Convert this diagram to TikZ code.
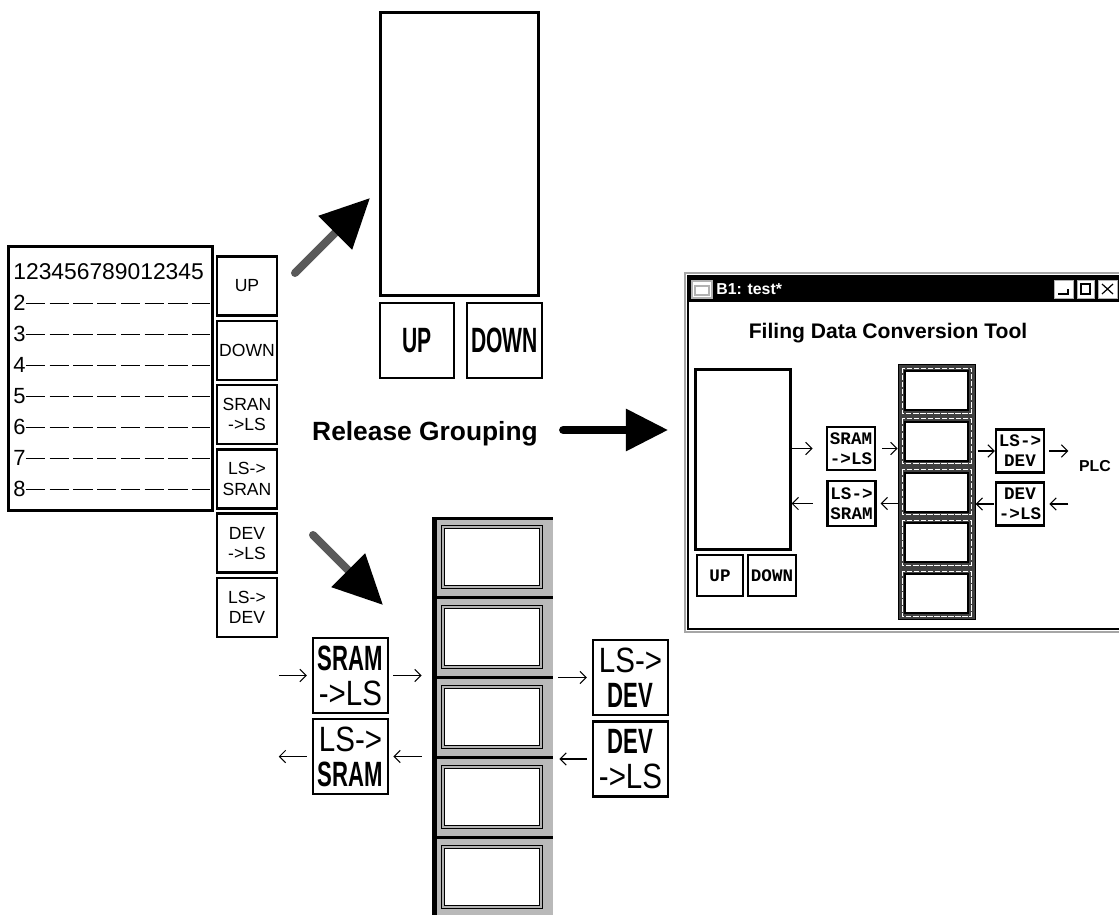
\documentclass[tikz,border=0pt]{standalone}
\usepackage{fontspec}
\setmainfont{Liberation Sans}
\newfontfamily\lcdmono{Liberation Mono}
\usepackage{graphicx}
\usetikzlibrary{arrows.meta}
\usetikzlibrary{positioning}
\newcommand{\px}{0.02cm}
\newcommand{\cnd}[2]{\scalebox{#1}[1]{#2}}
\tikzset{lcdbox/.style={draw, line width=3*\px, fill=white, inner sep=0pt}}
\tikzset{keybtn/.style={draw, line width=2.5*\px, inner sep=0pt, minimum width=60*\px, minimum height=59*\px, align=center, font=\fontsize{10pt}{11.5pt}\selectfont}}
\tikzset{bigbtn/.style={draw, line width=2.5*\px, inner sep=0pt, minimum width=75*\px, minimum height=75*\px, align=center, font=\fontsize{20pt}{20pt}\selectfont}}
\tikzset{winbtn/.style={draw, line width=2.5*\px, inner sep=0pt, minimum width=48*\px, minimum height=43*\px, align=center, font=\lcdmono\bfseries\fontsize{10pt}{11.5pt}\selectfont}}
\tikzset{filmframe/.style={draw, fill=white, line width=0.8pt, double=gray!60, double distance=0.8pt, inner sep=0pt}}
\tikzset{flow/.style={line width=0.6pt, -{Straight Barb[length=3.5pt,width=7pt]}}}
\tikzset{bigarrow/.style={line width=8*\px, line cap=round, draw=black!65, -{Triangle[length=28pt,width=26pt,color=black]}}}

\begin{document}
\begin{tikzpicture}[x=0.02cm, y=-0.02cm]
\useasboundingbox (0,0) rectangle (1119,915);
\clip (0,0) rectangle (1119,915);

% grouped display
\node[lcdbox, minimum width=204*\px, minimum height=263*\px] (lcd) at (110,378.5) {};
\node[anchor=west, inner sep=0pt, font=\fontsize{13pt}{14pt}\selectfont] (row1) at (13,272) {123456789012345};
\foreach \n in {2,...,8} {
  \node[anchor=west, inner sep=0pt, font=\fontsize{12.5pt}{14pt}\selectfont] (row\n) at (13,{272+31*(\n-1)}) {\n};
  \draw[thin, dash pattern=on 11pt off 2.5pt] (row\n.east) -- ++(184,0);
}

\node[keybtn] (up) at (247,286) {UP};
\node[keybtn, below=1.6pt of up] (down) {DOWN};
\node[keybtn, below=1.6pt of down] (sran) {SRAN\\->LS};
\node[keybtn, below=1.6pt of sran] (lssran) {LS->\\SRAN};
\node[keybtn, below=1.6pt of lssran] (devls) {DEV\\->LS};
\node[keybtn, below=1.6pt of devls] (lsdev) {LS->\\DEV};

% released display
\node[lcdbox, minimum width=158*\px, minimum height=283*\px] (toplcd) at (459,154.5) {};
\node[bigbtn, minimum width=74*\px] (topup) at (417,340.5) {\cnd{0.6}{\textbf{UP}}};
\node[bigbtn] (topdown) at (504.5,340.5) {\cnd{0.6}{\textbf{DOWN}}};

\coordinate (a1) at (295,273); \coordinate (a1tip) at (370,198);
\draw[bigarrow] (a1) -- (a1tip);
\coordinate (a2) at (313,535); \coordinate (a2tip) at (383,605);
\draw[bigarrow] (a2) -- (a2tip);

% released buttons and strip
\node[fill=gray!55, minimum width=121*\px, minimum height=400*\px, inner sep=0pt] (bstrip) at (492.5,717) {};
\draw[line width=5*\px] (434.5,517) -- (434.5,917);
\draw[line width=3*\px] (432,518.5) -- (553,518.5);
\foreach \k in {0,...,4} {
  \node[filmframe, minimum width=98*\px, minimum height=60*\px] (bf\k) at (492,{557+80*\k}) {};
  \draw[line width=3*\px] (432,{597+80*\k}) -- ++(121,0);
}

\node[bigbtn] (bsram) at (350.5,675.5) {\cnd{0.63}{\textbf{SRAM}}\\\cnd{0.84}{->LS}};
\node[bigbtn] (blssram) at (350.5,756.5) {\cnd{0.84}{LS->}\\\cnd{0.63}{\textbf{SRAM}}};
\node[bigbtn] (blsdev) at (630.5,677.5) {\cnd{0.84}{LS->}\\\cnd{0.63}{\textbf{DEV}}};
\node[bigbtn] (bdevls) at (630.5,759) {\cnd{0.63}{\textbf{DEV}}\\\cnd{0.84}{->LS}};

\draw[flow] (bsram.west) ++(-33,0) -- ++(28,0);
\draw[flow, shorten >=5.7pt] (bsram.east) ++(4,0) -- (bsram -| bstrip.west);
\draw[flow, shorten >=2.8pt] (bstrip.east |- blsdev) ++(5,0) -- (blsdev.west);
\draw[flow] (blssram.west) ++(-5,0) -- ++(-28,0);
\draw[flow, shorten >=2.3pt] (blssram -| bstrip.west) ++(-10,0) -- (blssram.east);
\draw[flow, shorten >=3.4pt] (bdevls.west) ++(-5,0) -- (bdevls -| bstrip.east);

\node[inner sep=0pt, font=\bfseries\fontsize{15pt}{18pt}\selectfont] (rg) at (425,434) {Release Grouping};
\draw[line width=8*\px, line cap=round, -{Triangle[length=24pt,width=23pt]}] (rg.east) ++(25,-4) -- ++(105,0);

% screen window
\fill[white] (685,273) rectangle (1130,632);
\draw[gray!70, line width=1.5*\px] (685,273) rectangle (1130,632);
\draw[line width=1.5*\px] (688,276) rectangle (1130,629);
\fill (689,277) rectangle (1130,302);
\draw[gray!60, fill=white, line width=1.2*\px] (692,281) rectangle (712,298);
\draw[gray!60, line width=1.2*\px] (695,286) rectangle (709,295);
\node[anchor=west, inner sep=0pt, text=white, font=\bfseries\fontsize{9pt}{10pt}\selectfont] (wname) at (716,289) {B1: test*};
\draw[gray!60, fill=white] (1054,280) rectangle (1073,298);
\draw[line width=1.2*\px] (1058,294) -- (1068,294) -- (1068,289);
\draw[gray!60, fill=white] (1077,280) rectangle (1094,298);
\draw[line width=1.2*\px] (1081,284) rectangle (1090,294);
\draw[gray!60, fill=white] (1098,280) rectangle (1117,298);
\draw[line width=1.2*\px] (1102,284) -- (1113,294) (1102,294) -- (1113,284);

\node[font=\bfseries\fontsize{12pt}{14pt}\selectfont] (whead) at (888,333) {Filing Data Conversion Tool};

\node[lcdbox, minimum width=95*\px, minimum height=179*\px] (wlcd) at (742.5,459.5) {};
\node[winbtn, minimum width=46*\px, minimum height=41*\px] (wup) at (720,575.5) {UP};
\node[winbtn, minimum height=41*\px] (wdown) at (772,575.5) {DOWN};
\node[winbtn] (wsram) at (851,448.5) {SRAM\\->LS};
\node[winbtn, minimum height=45*\px] (wlssram) at (851.5,503.5) {LS->\\SRAM};

\node[draw, fill=black!75, line width=1*\px, minimum width=77*\px, minimum height=254*\px, inner sep=0pt] (wstrip) at (936.5,492) {};
\foreach \k in {0,...,4} {
  \draw[white, line width=0.4pt, dash pattern=on 3pt off 1pt] (902,{368+50.8*\k}) rectangle (971,{413+50.8*\k});
  \node[draw, fill=white, line width=2*\px, minimum width=63*\px, minimum height=39*\px, inner sep=0pt] (wf\k) at (936.5,{390.4+50.8*\k}) {};
}

\node[winbtn] (wlsdev) at (1020,451) {LS->\\DEV};
\node[winbtn] (wdevls) at (1020,504) {DEV\\->LS};
\node[inner sep=0pt, font=\bfseries\fontsize{9pt}{10pt}\selectfont] (plc) at (1095,466) {PLC};

\draw[flow] (wlcd.east |- wsram) -- ++(21,0);
\draw[flow] (wsram.east) ++(6,0) -- (wsram -| wstrip.west);
\draw[flow] (wstrip.east |- wlsdev) ++(2,0) -- (wlsdev.west);
\draw[flow] (wlsdev.east) ++(4,0) -- ++(19,0);
\draw[flow] (wlcd.east |- wlssram) ++(21,0) -- (wlcd.east |- wlssram);
\draw[flow] (wlssram -| wstrip.west) -- ++(-17,0);
\draw[flow] (wdevls.west) ++(-1,0) -- (wdevls -| wstrip.east);
\draw[flow] (wdevls.east) ++(23,0) -- ++(-19,0);

\end{tikzpicture}
\end{document}
